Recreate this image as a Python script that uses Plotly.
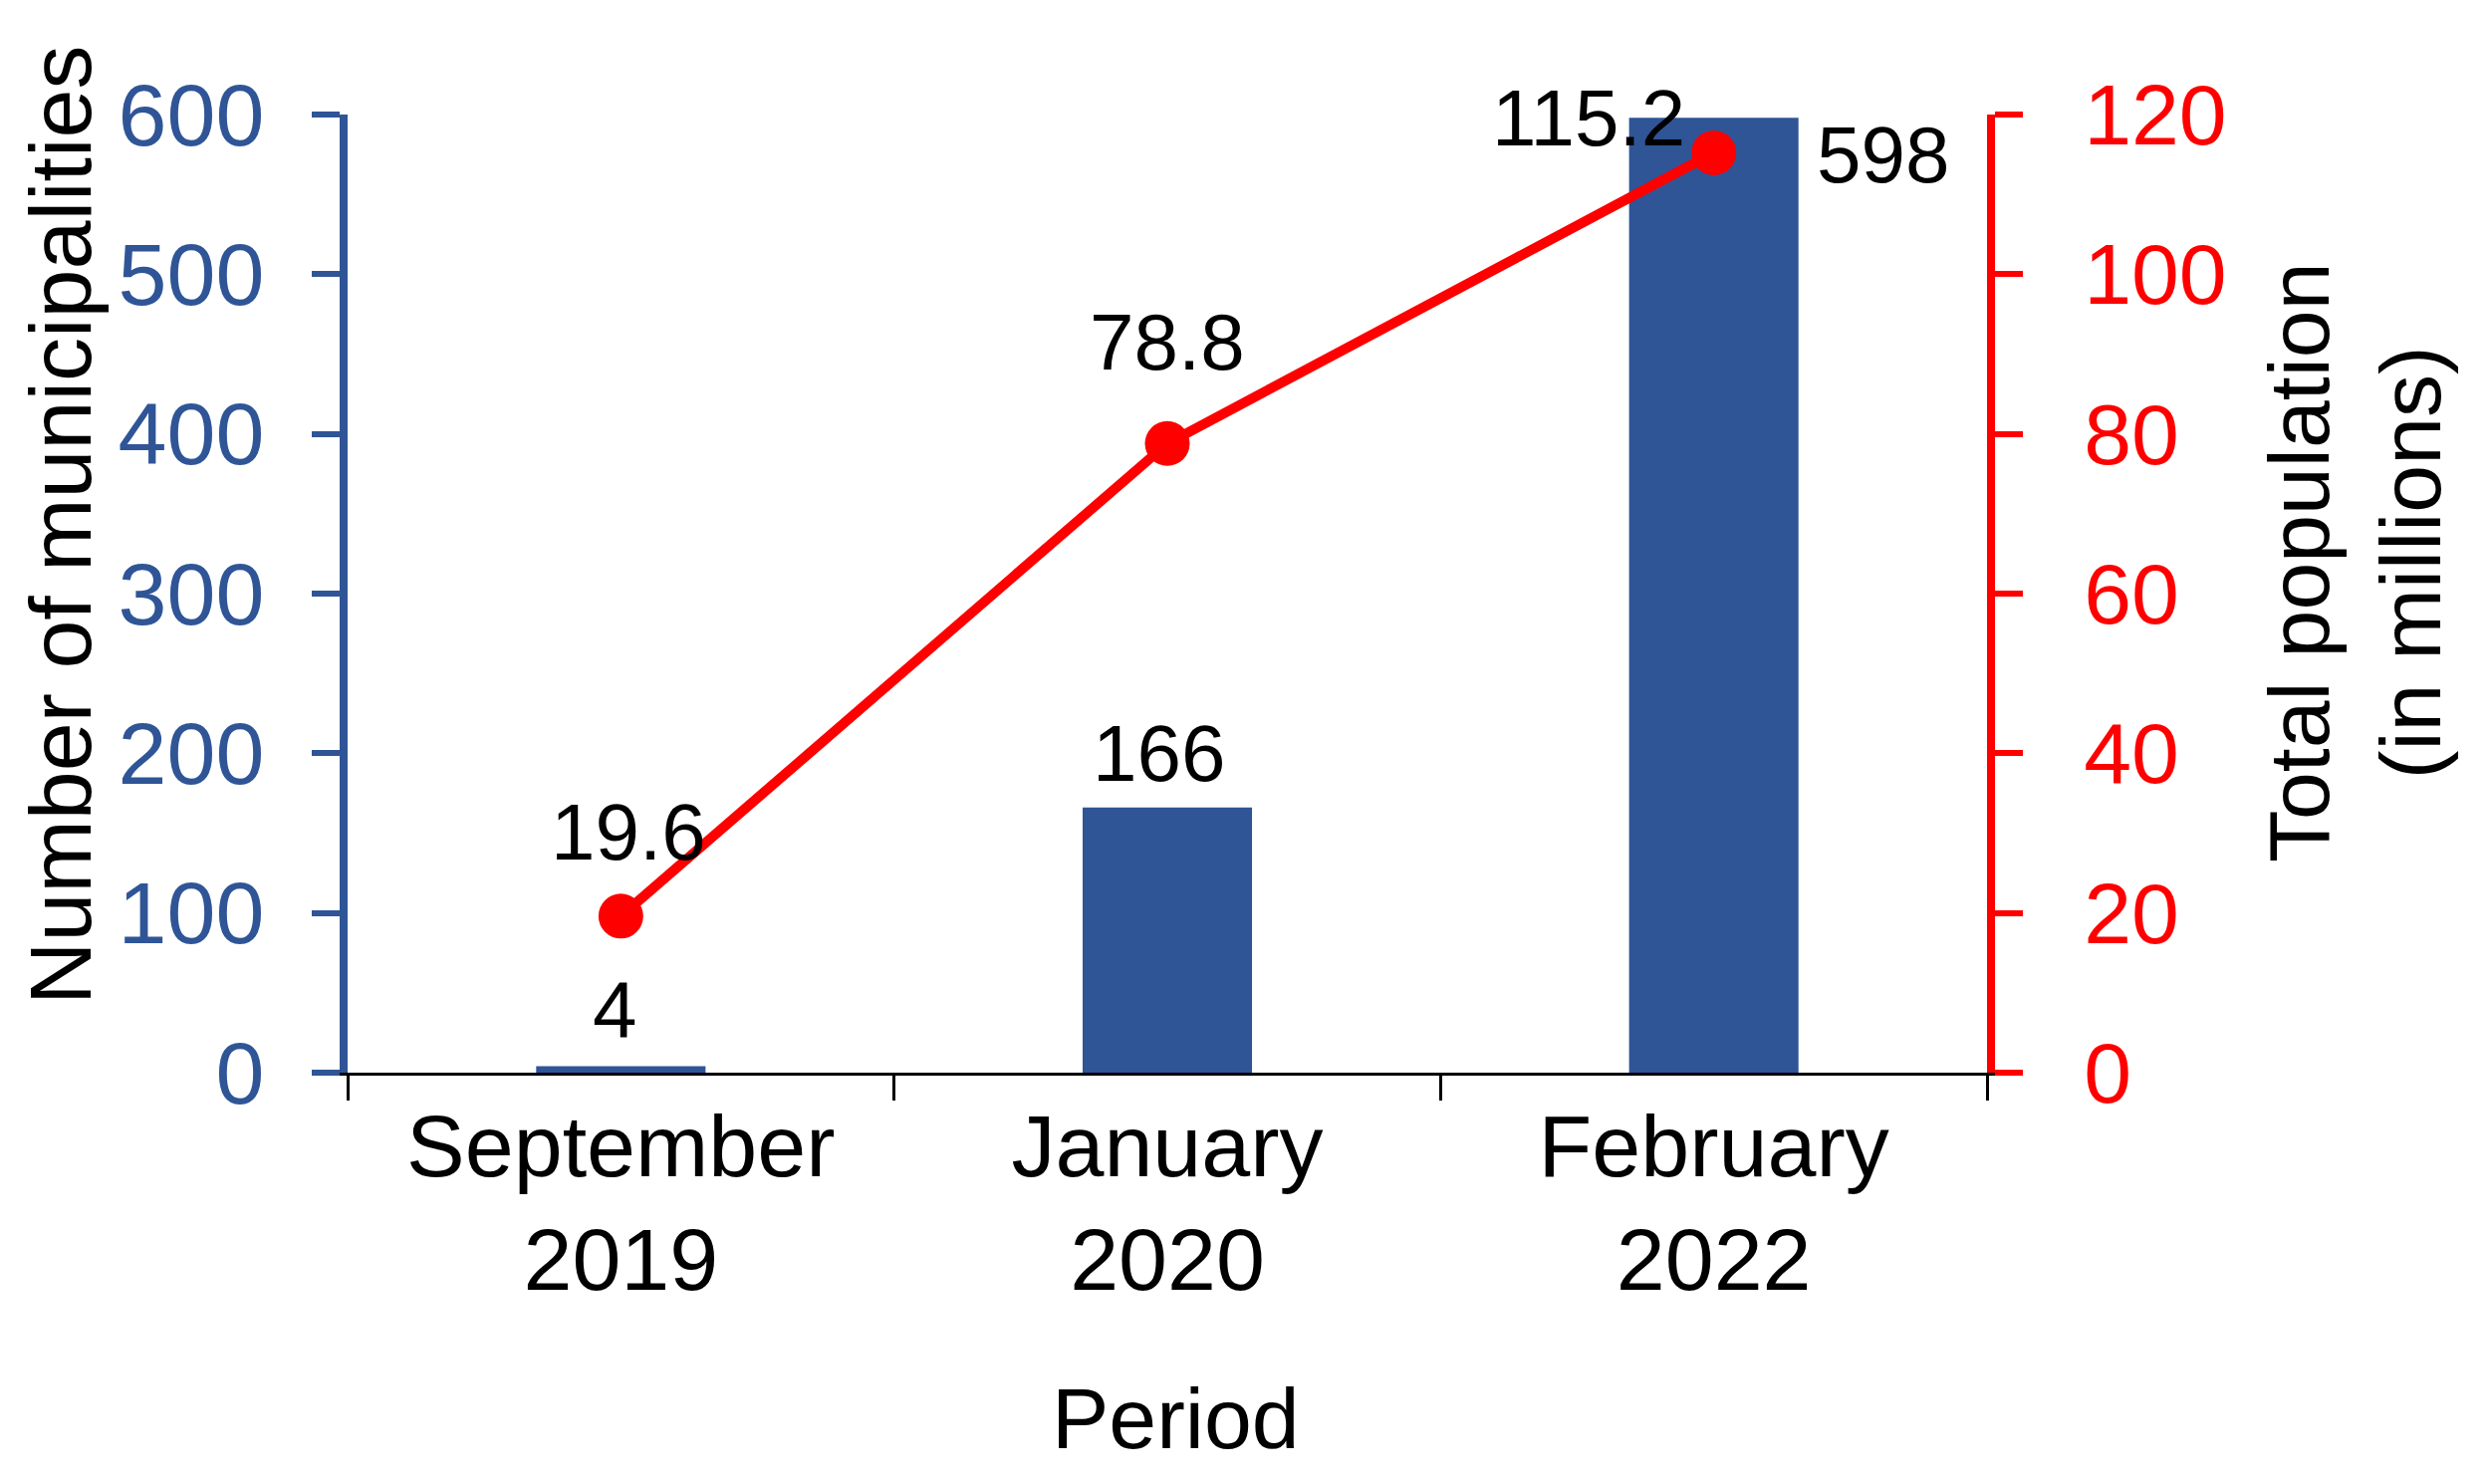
import plotly.graph_objects as go

categories = ["September<br>2019", "January<br>2020", "February<br>2022"]
municipalities = [4, 166, 598]
population = [19.6, 78.8, 115.2]
left_ticks = [0, 100, 200, 300, 400, 500, 600]
right_ticks = [0, 20, 40, 60, 80, 100, 120]

BLUE = "#2F5597"
RED = "#FF0000"
FONT = "Arial, Liberation Sans, sans-serif"

# label offsets (px) for data labels
bar_label_shift = [(-6, 57), (-9, 54), (170, -37)]
line_label_shift = [(8, 84), (0, 102), (-126, 35)]

fig = go.Figure()
fig.add_trace(go.Bar(x=categories, y=municipalities, marker=dict(color=BLUE, line=dict(width=0)),
                     width=0.31, yaxis="y", showlegend=False))
fig.add_trace(go.Scatter(x=categories, y=population, mode="lines+markers", yaxis="y2",
                         line=dict(color=RED, width=10), marker=dict(color=RED, size=45),
                         showlegend=False))

annotations = []
for c, v, (dx, dy) in zip(categories, municipalities, bar_label_shift):
    annotations.append(dict(x=c, y=v, xref="x", yref="y", text=str(v), showarrow=False,
                            xshift=dx, yshift=dy, font=dict(size=80, color="black", family=FONT)))
for c, v, (dx, dy) in zip(categories, population, line_label_shift):
    annotations.append(dict(x=c, y=v, xref="x", yref="y2", text=f"{v:.1f}", showarrow=False,
                            xshift=dx, yshift=dy, font=dict(size=80, color="black", family=FONT)))

OFF = 8  # page body margin
W, H = 2501 - 2 * OFF, 1490 - 2 * OFF
# plot area in page coordinates
L, R, T, B = 349, 1995, 115, 1077

def px(x):
    return (x - L) / (R - L)

def py(y):
    return (B - y) / (B - T)

annotations.append(dict(x=px(60), y=py(527), xref="paper", yref="paper", text="Number of municipalities",
                        textangle=-90, showarrow=False, xanchor="center", yanchor="middle",
                        font=dict(size=88, color="black", family=FONT)))
annotations.append(dict(x=px(2364), y=py(565), xref="paper", yref="paper",
                        text="Total population<br>(in millions)",
                        textangle=-90, showarrow=False, xanchor="center", yanchor="middle",
                        font=dict(size=86, color="black", family=FONT)))
annotations.append(dict(x=px(1180), y=py(1424), xref="paper", yref="paper", text="Period",
                        showarrow=False, xanchor="center", yanchor="middle",
                        font=dict(size=86, color="black", family=FONT)))

fig.update_layout(
    width=W, height=H,
    margin=dict(l=L - OFF, r=W - (R - OFF), t=T - OFF, b=H - (B - OFF), pad=0),
    paper_bgcolor="white", plot_bgcolor="white",
    font=dict(family=FONT, color="black"),
    xaxis=dict(type="category", showline=True, linecolor="black", linewidth=3,
               ticks="outside", tickson="boundaries", ticklen=25, tickwidth=3, tickcolor="black",
               tickfont=dict(size=88, color="black", family=FONT), showgrid=False, zeroline=False,
               ticklabelstandoff=-5),
    yaxis=dict(range=[0, 600], tickvals=left_ticks, showline=True, linecolor=BLUE, linewidth=8,
               ticks="outside", ticklen=28, tickwidth=6, tickcolor=BLUE,
               tickfont=dict(size=88, color=BLUE, family=FONT), showgrid=False, zeroline=False,
               ticklabelstandoff=30),
    yaxis2=dict(range=[0, 120], tickvals=right_ticks, overlaying="y", side="right", showline=True,
                linecolor=RED, linewidth=8, ticks="outside", ticklen=28, tickwidth=6, tickcolor=RED,
                tickfont=dict(size=86, color=RED, family=FONT), showgrid=False, zeroline=False,
                ticklabelstandoff=44),
    annotations=annotations,
)

fig.write_html("out.html")
